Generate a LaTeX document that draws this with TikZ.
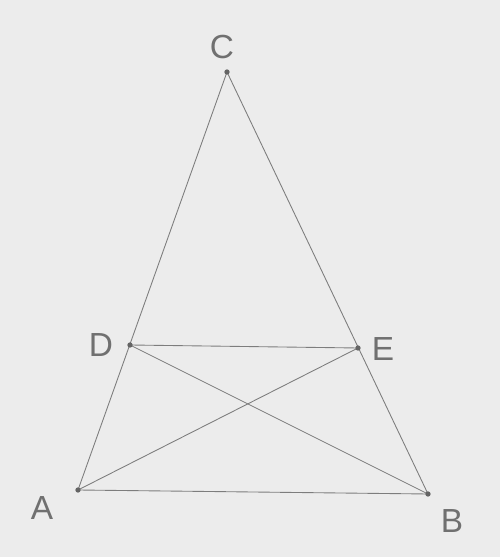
\documentclass[tikz,border=0pt]{standalone}
\usepackage{fontspec}
\setsansfont{Liberation Sans}
\definecolor{paper}{RGB}{236,236,236}
\definecolor{pencil}{RGB}{125,125,125}
\definecolor{c707070}{RGB}{112,112,112}
\def \globalscale {1.000000}
\tikzset{
  edge/.style={draw=pencil,line width=0.5pt,line cap=round},
  vertex/.style={circle,fill=pencil!80!black,inner sep=0pt,minimum size=3pt},
  letter/.style={text=c707070,font=\sffamily\fontsize{19}{22}\selectfont}
}

\begin{document}
\begin{tikzpicture}[y=1cm, x=1cm, yscale=\globalscale,xscale=\globalscale, every node/.append style={scale=\globalscale}, inner sep=0pt, outer sep=0pt]
  \path[fill=paper] (0.0, 0.0) rectangle (10.0, 11.14);

  \coordinate (C) at (4.54, 9.70);
  \coordinate (D) at (2.60, 4.24);
  \coordinate (E) at (7.16, 4.18);
  \coordinate (A) at (1.56, 1.34);
  \coordinate (B) at (8.56, 1.26);

  \path[edge] (A) -- (B) -- (C) -- cycle;
  \path[edge] (D) -- (E);
  \path[edge] (D) -- (B);
  \path[edge] (A) -- (E);

  \node[vertex] (vC) at (C) {};
  \node[vertex] (vD) at (D) {};
  \node[vertex] (vE) at (E) {};
  \node[vertex] (vA) at (A) {};
  \node[vertex] (vB) at (B) {};

  \node[letter] (textC) at (4.44, 10.20){C};
  \node[letter] (textD) at (2.02, 4.24){D};
  \node[letter] (textE) at (7.66, 4.16){E};
  \node[letter] (textA) at (0.84, 0.98){A};
  \node[letter] (textB) at (9.04, 0.72){B};

\end{tikzpicture}
\end{document}
